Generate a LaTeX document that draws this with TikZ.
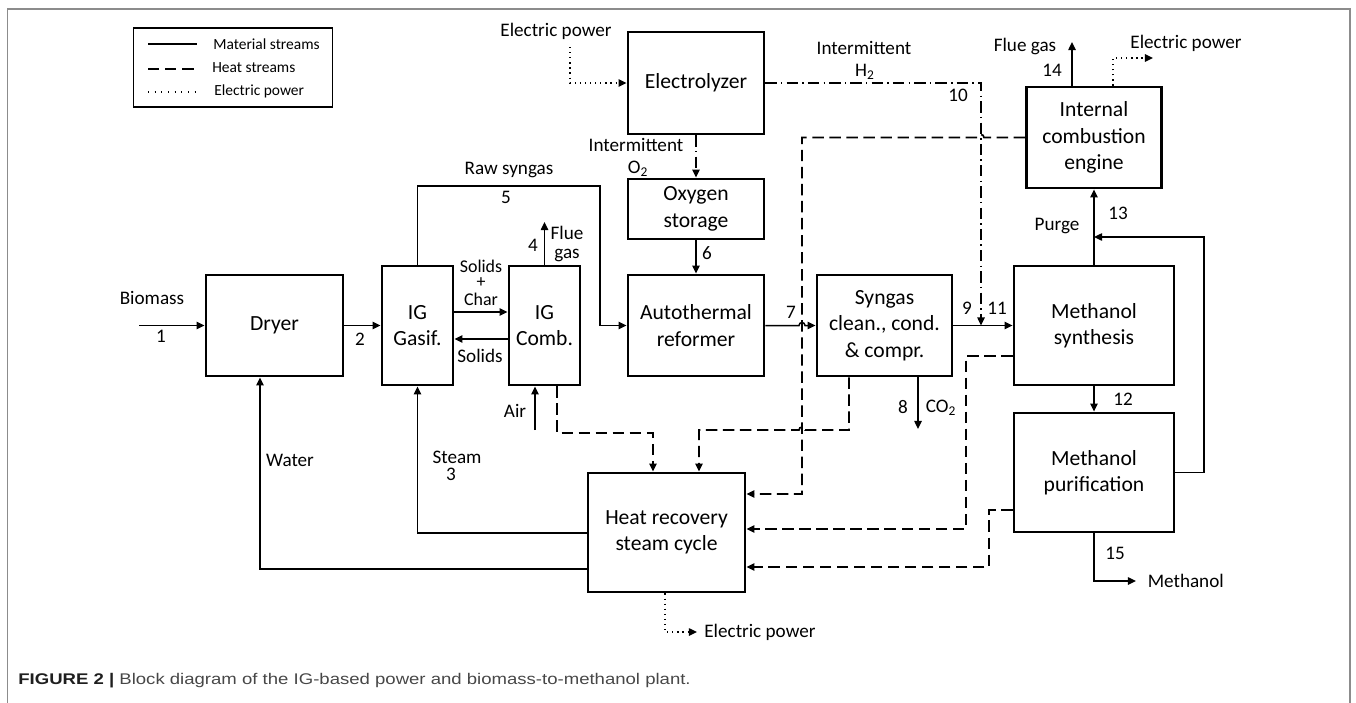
\documentclass[tikz,border=0pt]{standalone}
\usepackage{fontspec}
\setmainfont{Carlito}
\newfontfamily\capfont[FakeStretch=1.2]{Liberation Sans}
\usetikzlibrary{arrows.meta}

\begin{document}
\begin{tikzpicture}[x=0.02cm,y=-0.02cm,
  blk/.style 2 args={draw,line width=1.6pt,minimum width=#1*0.02cm,minimum height=#2*0.02cm,
    inner sep=0pt,align=center,font=\fontsize{12.3}{15}\selectfont},
  lbl/.style={inner sep=0pt,align=center,font=\fontsize{10.9}{12.5}\selectfont},
  legtxt/.style={inner sep=0pt,anchor=west,font=\fontsize{8.8}{10}\selectfont},
  mat/.style={line width=0.85pt,-{Triangle[length=4.6pt,width=4.2pt]}},
  heat/.style={mat,line width=0.95pt,dash pattern=on 6.5pt off 3.2pt},
  elec/.style={mat,dash pattern=on 0.7pt off 2.2pt},
  hyd/.style={mat,dash pattern=on 6.5pt off 2.4pt on 0.8pt off 2.4pt}]
\useasboundingbox (0,0) rectangle (1356,703);
\draw[black!45,line width=0.7pt] (7.5,703) |- (1350,9) -- (1350,703);

\node[draw,line width=0.6pt,minimum width=199*0.02cm,minimum height=79*0.02cm,inner sep=0pt] (leg) at (233,67.5) {};
\draw[line width=0.8pt] (148,44) -- (197,44);
\draw[line width=1pt,dash pattern=on 6.5pt off 3.2pt] (148,69) -- (197,69);
\draw[line width=0.6pt,dash pattern=on 0.6pt off 3.2pt] (148,92) -- (197,92);
\node[legtxt] at (213,44) {Material streams};
\node[legtxt] at (212,68) {Heat streams};
\node[legtxt] at (214,91) {Electric power};

\node[blk={137}{101}] (dryer) at (274.5,325.5) {Dryer};
\node[blk={71}{119}] (gasif) at (417.5,325.5) {IG\\Gasif.};
\node[blk={71}{119}] (comb) at (544.5,325.5) {IG\\Comb.};
\node[blk={136}{102}] (elec) at (696,83) {Electrolyzer};
\node[blk={136}{60}] (oxy) at (696,209) {Oxygen\\storage};
\node[blk={136}{101}] (atr) at (696,325.5) {Autothermal\\reformer};
\node[blk={135}{101}] (syn) at (884.5,325.5) {Syngas\\clean., cond.\\\& compr.};
\node[blk={160}{119}] (meoh) at (1094,325.5) {Methanol\\synthesis};
\node[blk={160}{119}] (pur) at (1094,472.5) {Methanol\\purification};
\node[blk={135}{101}] (ice) at (1094,137.5) {Internal\\combustion\\engine};
\node[blk={157}{119}] (hrsc) at (666.5,532.5) {Heat recovery\\steam cycle};

\node[lbl] (tbio) at (152,298) {Biomass};
\node[lbl] at (161,336) {1};
\node[lbl] at (360,339) {2};
\node[lbl,font=\fontsize{10.2}{11}\selectfont] at (481,266) {Solids};
\node[lbl,font=\fontsize{10.2}{11}\selectfont] at (481,282.5) {+};
\node[lbl,font=\fontsize{10.2}{11}\selectfont] at (481,299) {Char};
\node[lbl] at (480,356) {Solids};
\node[lbl] at (533,245) {4};
\node[lbl,font=\fontsize{10.9}{10.8}\selectfont] at (567,244) {Flue\\gas};
\node[lbl] at (509,170) {Raw syngas};
\node[lbl] at (506,197) {5};
\node[lbl] at (515,411) {Air};
\node[lbl] at (457,457) {Steam};
\node[lbl] at (451,474) {3};
\node[lbl] at (290,460) {Water};
\node[lbl] (tep1) at (556,31) {Electric power};
\node[lbl] at (636,145) {Intermittent};
\node[lbl] at (638,169) {O\textsubscript{2}};
\node[lbl] at (707,253) {6};
\node[lbl] at (791,312) {7};
\node[lbl] at (864,48) {Intermittent};
\node[lbl] at (865,72) {H\textsubscript{2}};
\node[lbl] at (958,95) {10};
\node[lbl] at (967,308) {9};
\node[lbl] at (997,308) {11};
\node[lbl] at (903,407) {8};
\node[lbl] at (941,408) {CO\textsubscript{2}};
\node[lbl] at (1025,46) {Flue gas};
\node[lbl] at (1052,70) {14};
\node[lbl] at (1186,43) {Electric power};
\node[lbl] at (1057,226) {Purge};
\node[lbl] at (1118,213) {13};
\node[lbl] at (1123,399) {12};
\node[lbl] at (1115,553) {15};
\node[lbl,anchor=west,inner xsep=6.5pt] (tmeth) at (1136,581) {Methanol};
\node[lbl,anchor=west,inner xsep=4pt] (tep3) at (697,632) {Electric power};

\coordinate (bio) at (139,325.5);
\coordinate (flue4) at (544.5,222);
\coordinate (air) at (535,430);
\coordinate (ep1) at (570,47);
\coordinate (h2) at (981,325.5);
\coordinate (co2) at (918,429);
\coordinate (flue14) at (1072,42);
\coordinate (ep2) at (1153,58);

\draw[mat] (bio) -- (dryer);
\draw[mat] (dryer) -- (gasif);
\draw[mat] (gasif.east |- 0,312) -- (comb.west |- 0,312);
\draw[mat] (comb.west |- 0,339) -- (gasif.east |- 0,339);
\draw[mat] (comb) -- (flue4);
\draw[mat] (gasif) |- (600,186) |- (atr);
\draw[mat] (air) -- (comb.south -| air);
\draw[mat] (hrsc.west |- 0,533) -| (gasif);
\draw[mat] (hrsc.west |- 0,569) -| (dryer.south -| 260,0);
\draw[elec] (ep1) |- (elec);
\draw[hyd] (elec) -- (oxy);
\draw[mat] (oxy) -- (atr);
\draw[hyd] (elec) -| (h2);
\draw[mat] (atr) -- (799,325.5) arc[start angle=180,end angle=0,radius=0.06cm] -- (syn);
\draw[mat] (syn) -- (meoh);
\draw[mat] (syn.south -| co2) -- (co2);
\draw[mat] (meoh) -- (pur);
\draw[mat] (meoh) -- (ice);
\draw[mat] (pur) -| (1204,237) -- (meoh.north |- 0,237);
\draw[mat] (ice.north -| flue14) -- (flue14);
\draw[elec] (ice.north -| 1113,0) |- (ep2);
\draw[mat] (pur) |- (tmeth);
\draw[elec] (hrsc.south -| 665,0) |- (tep3);

\draw[heat] (comb.south -| 557,0) |- (653,433) -- (hrsc.north -| 653,0);
\draw[heat] (syn.south -| 849,0) |- (805,430) arc[start angle=0,end angle=180,radius=0.06cm] -| (hrsc.north -| 699,0);
\draw[heat] (ice) -- (984,137.5) arc[start angle=0,end angle=180,radius=0.06cm] -| (802,494) -- (hrsc.east |- 0,494);
\draw[heat] (meoh.west |- 0,356) -| (966,529) -- (hrsc.east |- 0,529);
\draw[heat] (pur.west |- 0,510) -| (989,567) -- (hrsc.east |- 0,567);

\node[anchor=west,inner sep=0pt,font=\capfont\fontsize{8.8}{10}\selectfont,text=black!72] (cap) at (18,681)
  {\textcolor{black!88}{\bfseries FIGURE 2 |} Block diagram of the IG-based power and biomass-to-methanol plant.};
\end{tikzpicture}
\end{document}
